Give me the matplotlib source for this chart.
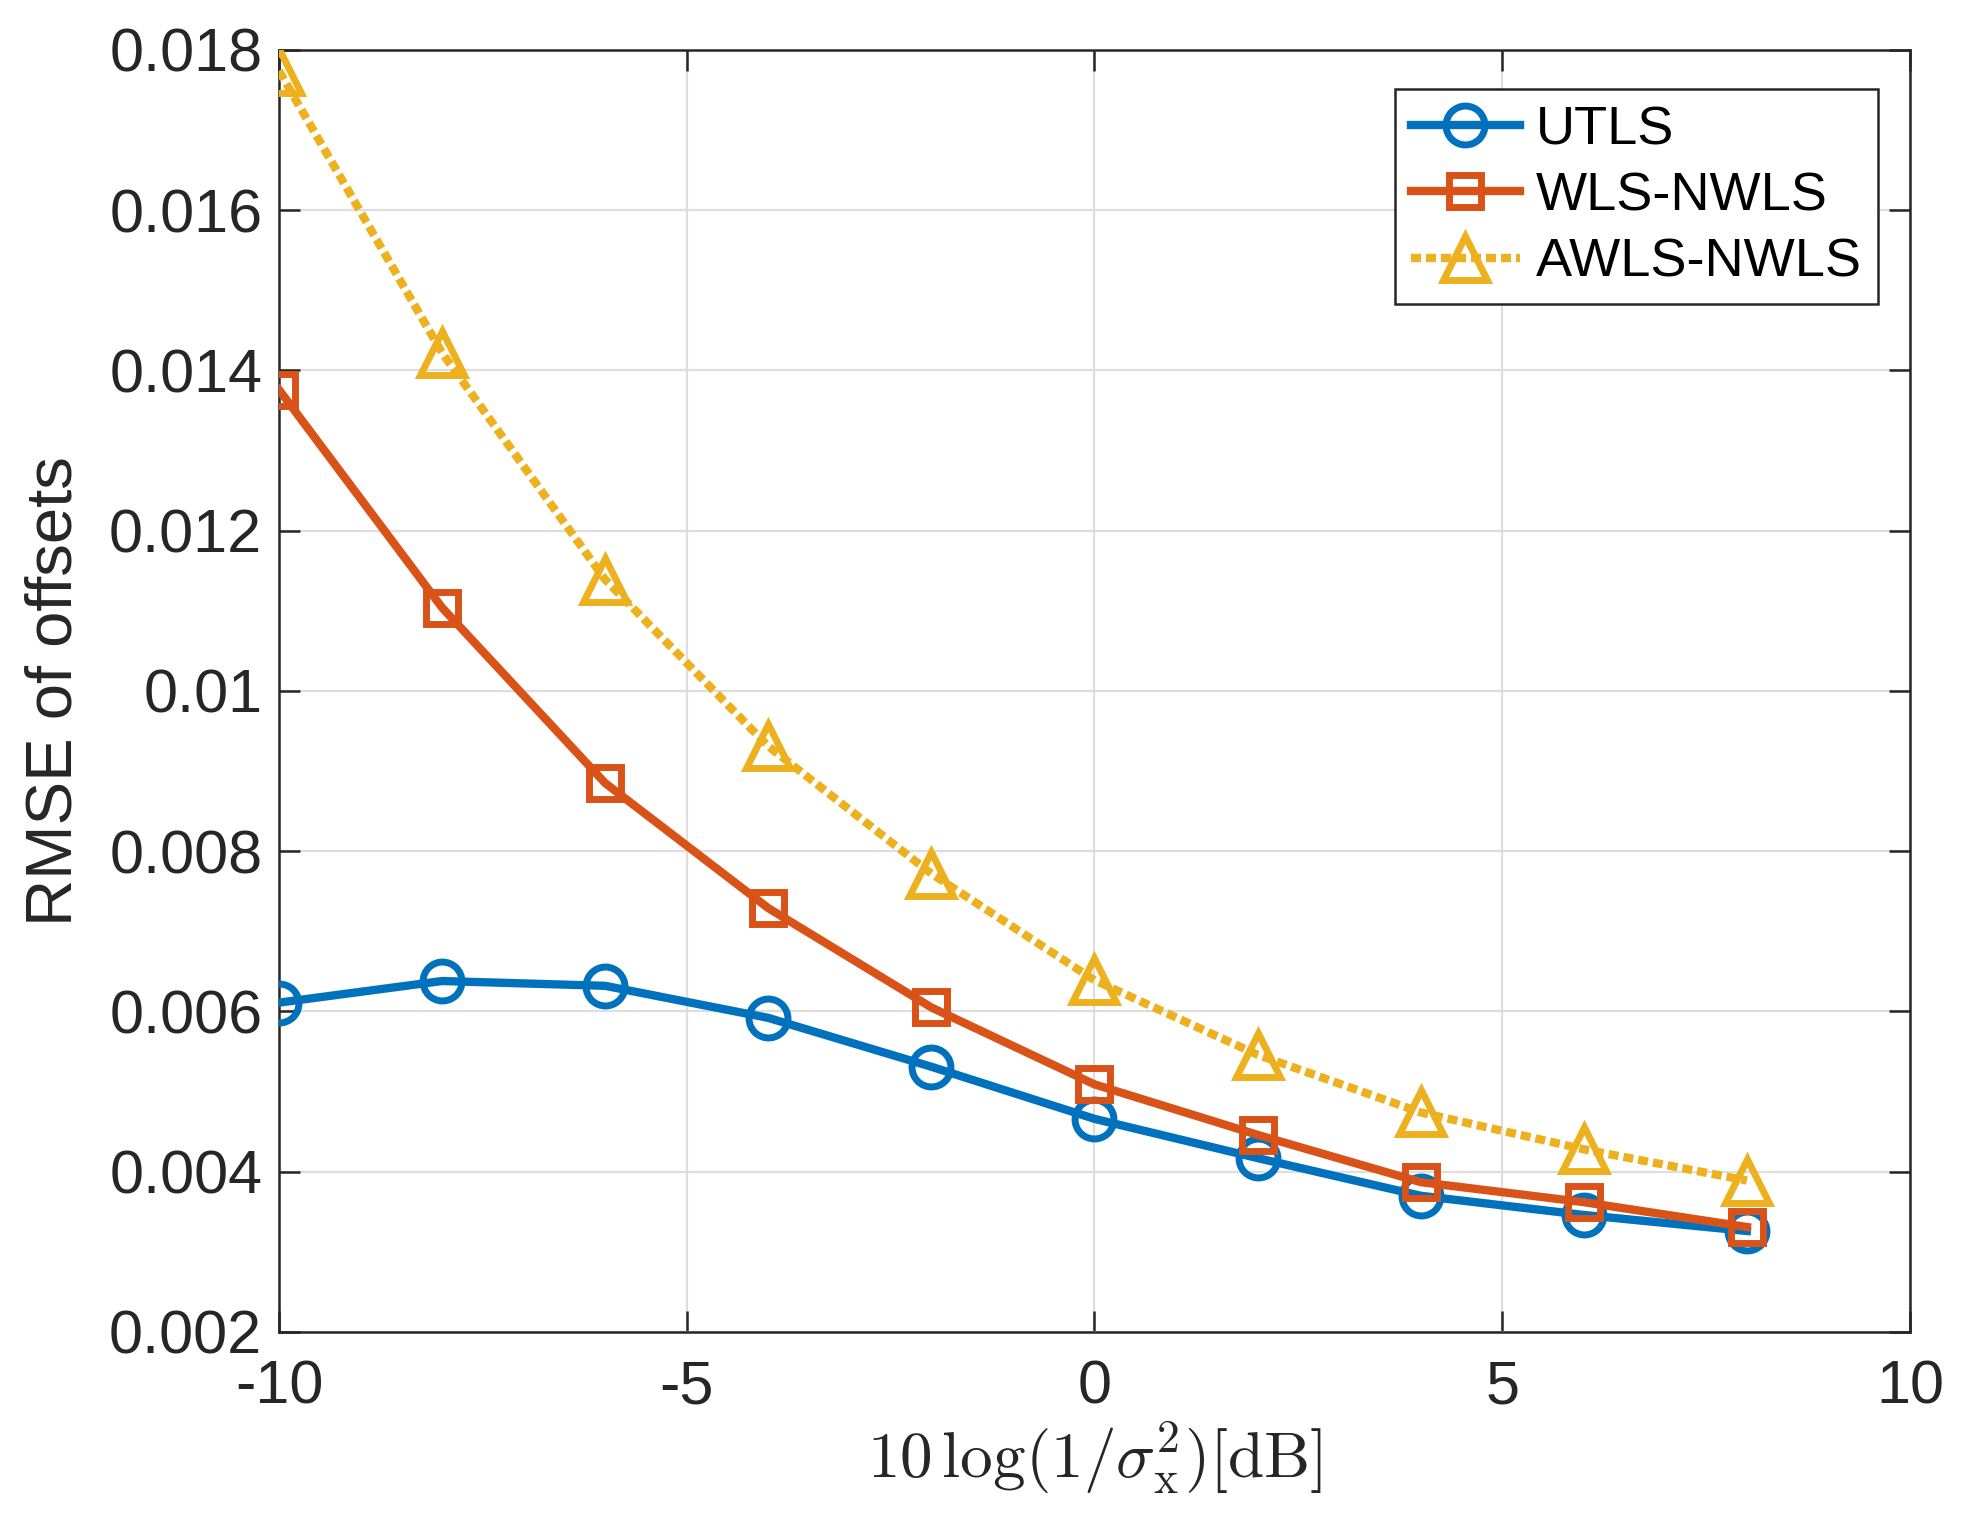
import numpy as np
import matplotlib
matplotlib.use('Agg')
from matplotlib import pyplot as plt

# values
snr_db = [-10, -8, -6, -4, -2, 0, 2, 4, 6, 8]
utls = [0.00611, 0.00638, 0.00632, 0.00592, 0.00531, 0.00466, 0.00417, 0.00370, 0.00346, 0.00326]
wls_nwls = [0.01376, 0.01104, 0.00885, 0.00729, 0.00605, 0.00509, 0.00446, 0.00387, 0.00362, 0.00331]
awls_nwls = [0.01774, 0.01422, 0.01139, 0.00931, 0.00772, 0.00639, 0.00546, 0.00474, 0.00428, 0.00389]
series_labels = ['UTLS', 'WLS-NWLS', 'AWLS-NWLS']
xticks = [-10, -5, 0, 5, 10]
yticks = [0.002, 0.004, 0.006, 0.008, 0.01, 0.012, 0.014, 0.016, 0.018]
ytick_labels = ['0.002', '0.004', '0.006', '0.008', '0.01', '0.012', '0.014', '0.016', '0.018']

plt.rcParams['font.family'] = ['Liberation Sans', 'DejaVu Sans']
plt.rcParams['mathtext.fontset'] = 'cm'

fig = plt.figure(figsize=(19.77, 15.28), dpi=100)
ax = fig.add_axes([0.1411, 0.1283, 0.825, 0.839])

lw = 6.0
ax.plot(snr_db, utls, color='#0072BD', lw=lw, marker='o', ms=28,
        mfc='none', mew=5, label=series_labels[0], zorder=3)
ax.plot(snr_db, wls_nwls, color='#D95319', lw=lw, marker='s', ms=23,
        mfc='none', mew=5, label=series_labels[1], zorder=4)
ax.plot(snr_db, awls_nwls, color='#EDB120', lw=lw, marker='^', ms=31,
        mfc='none', mew=5, dashes=(1.2, 0.6), dash_capstyle='butt',
        label=series_labels[2], zorder=5)

ax.set_xlim(-10, 10)
ax.set_ylim(0.002, 0.018)
ax.set_xticks(xticks)
ax.set_xticklabels([str(t) for t in xticks])
ax.set_yticks(yticks)
ax.set_yticklabels(ytick_labels)

ax.grid(True, color='#dedede', lw=1.6)
ax.set_axisbelow(True)
ax.tick_params(direction='in', length=15, width=1.8, top=True, right=True,
               labelsize=44, colors='#262626', pad=12)
ax.tick_params(axis='x', pad=20)
for s in ax.spines.values():
    s.set_linewidth(1.8)
    s.set_color('#262626')

ax.set_xlabel(r'$10\,\log(1/\sigma_{\rm x}^2)[\rm dB]$', fontsize=47,
              color='#262626', labelpad=2)
ax.set_ylabel('RMSE of offsets', fontsize=47, color='#262626', labelpad=18)

leg = ax.legend(loc='upper right', bbox_to_anchor=(0.9804, 0.9696),
                fontsize=39, frameon=True, fancybox=False, framealpha=1,
                edgecolor='#262626', handlelength=2.0, handletextpad=0.3,
                borderpad=0.3, labelspacing=0.3, borderaxespad=0)
leg.get_frame().set_linewidth(1.8)

fig.savefig('out.png', dpi=100)
